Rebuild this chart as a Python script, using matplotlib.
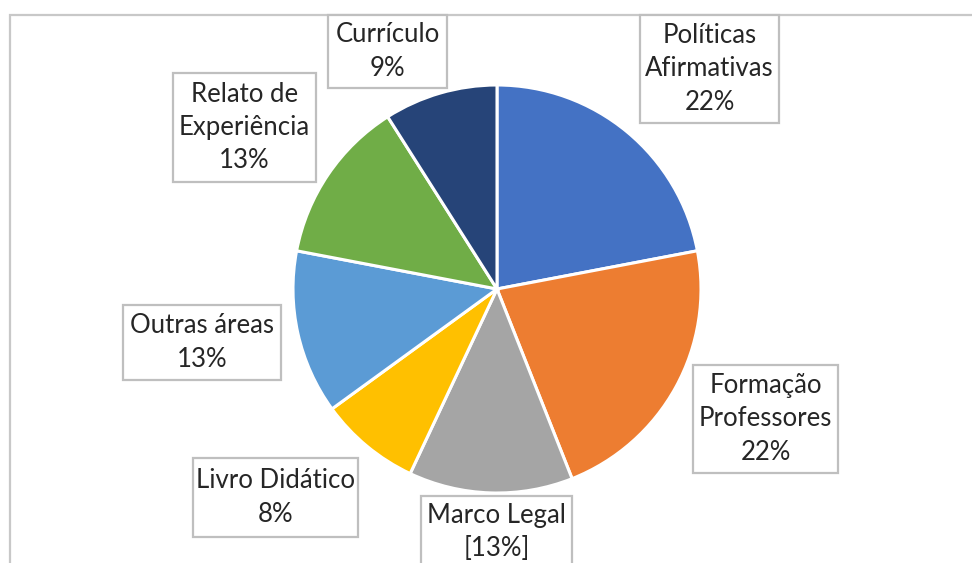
import matplotlib
matplotlib.use("Agg")
import matplotlib.pyplot as plt
from matplotlib.patches import Rectangle

# Distribution of studies by theme (percent)
categories = ["Políticas\nAfirmativas", "Formação\nProfessores", "Marco Legal",
              "Livro Didático", "Outras áreas", "Relato de\nExperiência", "Currículo"]
shares = [22, 22, 13, 8, 13, 13, 9]
value_fmt = ["{}%", "{}%", "[{}%]", "{}%", "{}%", "{}%", "{}%"]
colors = ["#4472C4", "#ED7D31", "#A5A5A5", "#FFC000", "#5B9BD5", "#70AD47", "#264478"]

# Label box layout in pixel units (x0, y0 from top, width, height)
boxes = [(640, 15, 139, 108), (693, 365, 145, 108), (421, 496, 151, 72),
         (193, 458, 165, 79), (123, 305, 158, 75), (173, 73, 143, 109),
         (328, 15, 119, 73)]

W, H = 972, 563
fig = plt.figure(figsize=(W / 100, H / 100), dpi=100)
ax = fig.add_axes([0, 0, 1, 1])

# Chart area frame
ax.add_patch(Rectangle((10, -20), W + 20, H - 15 + 20, fill=False,
                       edgecolor="#C8C8C8", linewidth=1.6, zorder=0))

ax.pie(shares, colors=colors, startangle=90, counterclock=False,
       center=(497, H - 289), radius=204,
       wedgeprops=dict(edgecolor="white", linewidth=2.2), frame=True)
ax.set_xlim(0, W)
ax.set_ylim(0, H)
ax.set_aspect("equal")
ax.axis("off")

for cat, val, fmt, (x0, y0, bw, bh) in zip(categories, shares, value_fmt, boxes):
    ax.add_patch(Rectangle((x0, H - y0 - bh), bw, bh, facecolor="white",
                           edgecolor="#BFBFBF", linewidth=1.6, zorder=5))
    ax.text(x0 + bw / 2, H - y0 - bh / 2, cat + "\n" + fmt.format(val),
            ha="center", va="center", fontsize=18.5, family="Lato",
            color="#262626", linespacing=1.42, zorder=6)

fig.savefig("out.png", dpi=100)
